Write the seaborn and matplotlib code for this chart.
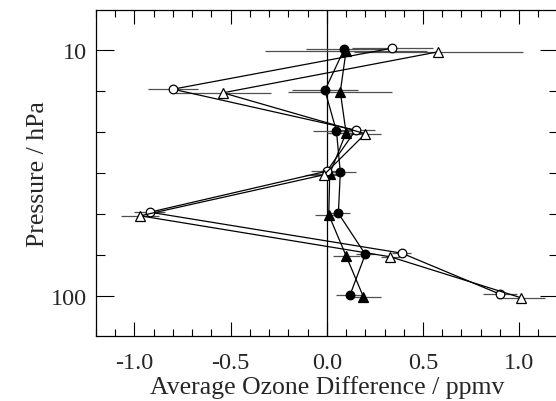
import numpy as np
import pandas as pd
import matplotlib
matplotlib.use("Agg")
import matplotlib.pyplot as plt
import matplotlib.transforms as mtransforms
from matplotlib.ticker import FixedLocator, NullFormatter, FuncFormatter
import seaborn as sns

# ---- data ----
pressure = [10.0, 14.68, 21.54, 31.62, 46.42, 68.13, 100.0]

filled_circle = [0.09, -0.01, 0.05, 0.07, 0.06, 0.20, 0.12]
filled_circle_err = [0.20, 0.17, 0.12, 0.08, 0.06, 0.05, 0.07]

filled_triangle = [0.10, 0.07, 0.10, 0.015, 0.01, 0.10, 0.19]
filled_triangle_err = [0.42, 0.27, 0.10, 0.08, 0.07, 0.07, 0.09]

open_circle = [0.34, -0.80, 0.15, 0.00, -0.92, 0.39, 0.90]
open_circle_err = [0.21, 0.13, 0.10, 0.08, 0.08, 0.05, 0.09]

open_triangle = [0.58, -0.54, 0.20, -0.015, -0.97, 0.33, 1.01]
open_triangle_err = [0.44, 0.25, 0.08, 0.10, 0.10, 0.05, 0.125]

x_ticks = [-1.0, -0.5, 0.0, 0.5, 1.0]
y_major = [10, 100]
y_minor = [14.68, 21.54, 31.62, 46.42, 68.13]

x_label = "Average Ozone Difference / ppmv"
y_label = "Pressure / hPa"

# ---- style ----
sns.set_style("ticks")
plt.rcParams["font.family"] = ["Liberation Serif", "DejaVu Serif"]
plt.rcParams["axes.unicode_minus"] = False

fig = plt.figure(figsize=(5.56, 4.02), dpi=100)
ax = fig.add_axes([0.1727, 0.161, 0.8303, 0.8116])

series = [
    ("filled_circle", filled_circle, filled_circle_err, "o", "black", 6.2, 0.5),
    ("filled_triangle", filled_triangle, filled_triangle_err, "^", "black", 7.0, -0.6),
    ("open_circle", open_circle, open_circle_err, "o", "white", 6.2, 1.3),
    ("open_triangle", open_triangle, open_triangle_err, "^", "white", 7.0, -1.3),
]

ax.axvline(0.0, color="black", lw=0.9, zorder=1)

for name, vals, errs, mk, face, ms, dy in series:
    df = pd.DataFrame({"x": vals, "p": pressure, "e": errs})
    off = mtransforms.ScaledTranslation(0, dy / 72.0, fig.dpi_scale_trans)
    tr = ax.transData + off
    ax.hlines(df["p"], df["x"] - df["e"], df["x"] + df["e"], colors="#505050",
              lw=0.9, zorder=2, transform=tr)
    sns.lineplot(data=df, x="x", y="p", sort=False, estimator=None, ax=ax,
                 color="black", lw=0.9, marker=mk, markersize=ms,
                 markerfacecolor=face, markeredgecolor="black",
                 markeredgewidth=0.9, zorder=3, transform=tr)

ax.set_yscale("log")
ax.set_ylim(145.8, 6.88)
ax.set_xlim(-1.2, 1.2)

ax.yaxis.set_major_locator(FixedLocator(y_major))
ax.yaxis.set_minor_locator(FixedLocator(y_minor))
ax.yaxis.set_major_formatter(FuncFormatter(lambda v, p: f"{v:g}"))
ax.yaxis.set_minor_formatter(NullFormatter())

ax.set_xticks(x_ticks)
ax.xaxis.set_minor_locator(FixedLocator(np.round(np.arange(-1.2, 1.21, 0.1), 2)))
ax.xaxis.set_major_formatter(FuncFormatter(lambda v, p: f"{v:.1f}"))

ax.tick_params(axis="both", which="both", direction="in", top=True, right=True,
               width=0.8, color="black", labelsize=17.5)
ax.tick_params(axis="x", which="major", length=10, pad=11)
ax.tick_params(axis="x", which="minor", length=5)
ax.tick_params(axis="y", which="major", length=13, pad=6.5)
ax.tick_params(axis="y", which="minor", length=6.5)

for s in ax.spines.values():
    s.set_linewidth(0.9)
    s.set_color("black")

ax.set_xlabel(x_label, fontsize=18.5, labelpad=2)
ax.set_ylabel(y_label, fontsize=18.5, labelpad=1)

fig.savefig("out.png", dpi=100)
